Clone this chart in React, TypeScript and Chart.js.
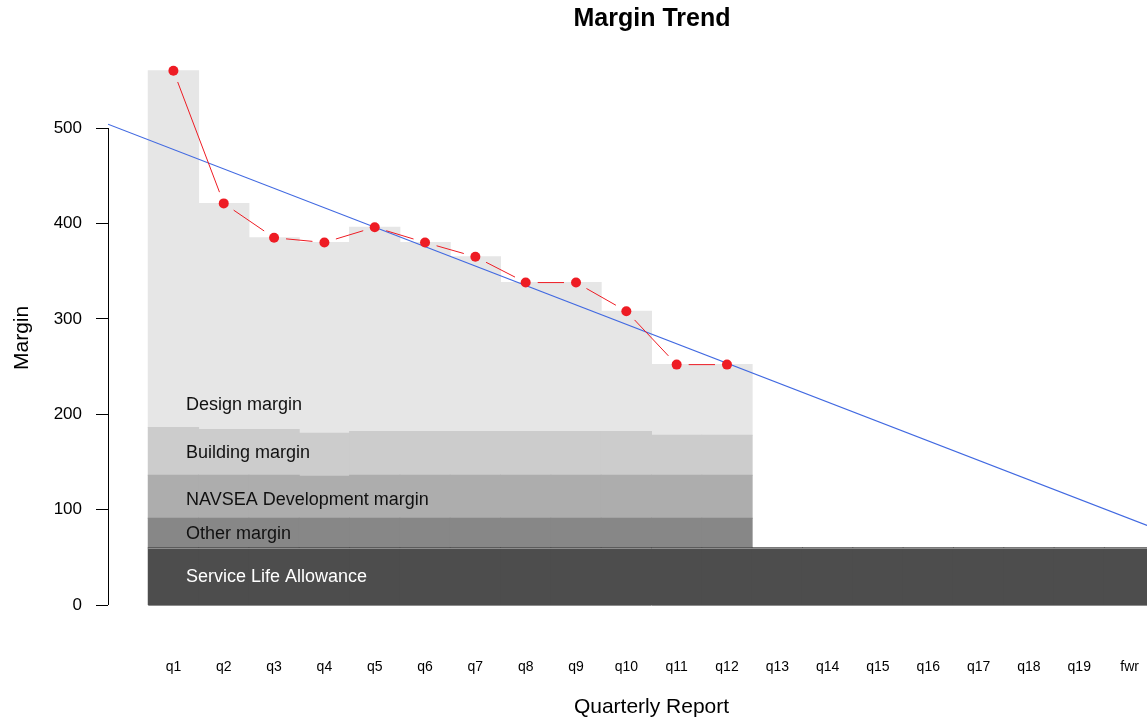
import React, { useEffect, useRef } from "react";
import { Chart, registerables } from "chart.js";

Chart.register(...registerables);

const FONT = "'Liberation Sans', Arial, Helvetica, sans-serif";

const categories = ["q1", "q2", "q3", "q4", "q5", "q6", "q7", "q8", "q9", "q10", "q11", "q12", "q13", "q14", "q15", "q16", "q17", "q18", "q19", "fwr"];
const serviceLifeAllowance = [60, 60, 60, 60, 60, 60, 60, 60, 60, 60, 60, 60, 60, 60, 60, 60, 60, 60, 60, 60];
const otherMargin = [31, 31, 31, 31, 31, 31, 31, 31, 31, 31, 31, 31];
const navseaMargin = [45, 45, 45, 44, 45, 45, 45, 45, 45, 45, 45, 45];
const buildingMargin = [50, 48, 48, 45, 46, 46, 46, 46, 46, 46, 42, 42];
const designMargin = [374, 237, 201, 200, 214, 198, 183, 156, 156, 126, 74, 74];
const marginTotals = [560, 421, 385, 380, 396, 380, 365, 338, 338, 308, 252, 252];
const trendEnds = [504, 64];
const xRange = [-0.8, 20.8];
const yRange = [-22.4, 582.4];
const yTicks = [0, 100, 200, 300, 400, 500];
const bandLabels = ["Design margin", "Building margin", "NAVSEA Development margin", "Other margin", "Service Life Allowance"];
const bandLabelValues = [210, 159, 110, 74, 29];
const bandLabelColors = ["#111", "#111", "#111", "#111", "#fff"];

const toXY = (arr: number[]) => arr.map((v, i) => ({ x: i + 0.5, y: v }));

const overlayPlugin = {
  id: "overlay",
  afterDatasetsDraw(chart: any) {
    const ctx = chart.ctx;
    const xs = chart.scales.x;
    const ys = chart.scales.y;
    ctx.save();
    // y axis line from first to last tick (R style)
    ctx.strokeStyle = "#000";
    ctx.lineWidth = 1;
    const ax = Math.round(chart.chartArea.left) + 0.5;
    ctx.beginPath();
    ctx.moveTo(ax, ys.getPixelForValue(yTicks[0]));
    ctx.lineTo(ax, ys.getPixelForValue(yTicks[yTicks.length - 1]));
    ctx.stroke();

    // thin outline along the Service Life Allowance band
    ctx.strokeStyle = "#8c8c8c";
    const sx0 = xs.getPixelForValue(0);
    const sx1 = xs.getPixelForValue(serviceLifeAllowance.length);
    [0, serviceLifeAllowance[0]].forEach((v) => {
      const py = Math.round(ys.getPixelForValue(v)) + 0.5;
      ctx.beginPath();
      ctx.moveTo(sx0, py);
      ctx.lineTo(sx1, py);
      ctx.stroke();
    });

    // band labels
    ctx.font = `18px ${FONT}`;
    ctx.textAlign = "left";
    ctx.textBaseline = "middle";
    const lx = xs.getPixelForValue(0.75);
    bandLabels.forEach((t, i) => {
      ctx.fillStyle = bandLabelColors[i];
      ctx.fillText(t, lx, ys.getPixelForValue(bandLabelValues[i]));
    });

    // gapped connecting segments (type "b")
    const meta = chart.getDatasetMeta(0);
    const pts = meta.data.map((p: any) => ({ x: p.x, y: p.y }));
    ctx.strokeStyle = "#ee1c24";
    ctx.lineWidth = 1;
    const g = 12;
    for (let i = 0; i < pts.length - 1; i++) {
      const a = pts[i];
      const b = pts[i + 1];
      const dx = b.x - a.x;
      const dy = b.y - a.y;
      const d = Math.hypot(dx, dy);
      if (d <= 2 * g) continue;
      const ux = dx / d;
      const uy = dy / d;
      ctx.beginPath();
      ctx.moveTo(a.x + ux * g, a.y + uy * g);
      ctx.lineTo(b.x - ux * g, b.y - uy * g);
      ctx.stroke();
    }
    ctx.restore();
  },
};

export default function App() {
  const ref = useRef<HTMLCanvasElement>(null);

  useEffect(() => {
    if (!ref.current) return;
    const barCommon = {
      type: "bar" as const,
      stack: "margins",
      barPercentage: 1,
      categoryPercentage: 1,
      borderWidth: 0,
      inflateAmount: 0.5,
    };
    const chart = new Chart(ref.current, {
      data: {
        datasets: [
          {
            type: "line",
            label: "Margin",
            data: toXY(marginTotals),
            showLine: false,
            stack: "points",
            pointRadius: 5,
            pointBackgroundColor: "#ee1c24",
            pointBorderColor: "#ee1c24",
            pointBorderWidth: 0,
            borderColor: "#ee1c24",
          },
          {
            type: "line",
            label: "Trend",
            data: [
              { x: xRange[0], y: trendEnds[0] },
              { x: xRange[1], y: trendEnds[1] },
            ],
            stack: "trend",
            borderColor: "#4169e1",
            borderWidth: 1.2,
            pointRadius: 0,
          },
          { ...barCommon, label: "Service Life Allowance", data: toXY(serviceLifeAllowance), backgroundColor: "#4d4d4d" },
          { ...barCommon, label: "Other margin", data: toXY(otherMargin), backgroundColor: "#878787" },
          { ...barCommon, label: "NAVSEA Development margin", data: toXY(navseaMargin), backgroundColor: "#adadad" },
          { ...barCommon, label: "Building margin", data: toXY(buildingMargin), backgroundColor: "#cccccc" },
          { ...barCommon, label: "Design margin", data: toXY(designMargin), backgroundColor: "#e6e6e6" },
        ] as any,
      },
      options: {
        animation: false,
        responsive: false,
        layout: { padding: 0 },
        plugins: {
          legend: { display: false },
          tooltip: { enabled: false },
          title: {
            display: true,
            text: "Margin Trend",
            color: "#000",
            font: { family: FONT, size: 25, weight: "bold", lineHeight: 1.2 },
            padding: { top: 4.5, bottom: 14.9 },
          },
        },
        scales: {
          x: {
            type: "linear",
            min: xRange[0],
            max: xRange[1],
            stacked: true,
            offset: false,
            afterBuildTicks: (s: any) => {
              s.ticks = categories.map((_, i) => ({ value: i + 0.5 }));
            },
            afterFit: (s: any) => {
              s.height = 94.6;
            },
            grid: { display: false },
            border: { display: false },
            ticks: {
              padding: 24,
              color: "#000",
              autoSkip: false,
              maxRotation: 0,
              font: { family: FONT, size: 14 },
              callback: (_v: any, i: number) => categories[i],
            },
            title: {
              display: true,
              text: "Quarterly Report",
              color: "#000",
              font: { family: FONT, size: 21 },
              padding: { top: 0, bottom: 1.4 },
            },
          },
          y: {
            type: "linear",
            position: "left",
            min: yRange[0],
            max: yRange[1],
            stacked: true,
            afterBuildTicks: (s: any) => {
              s.ticks = yTicks.map((v) => ({ value: v }));
            },
            afterFit: (s: any) => {
              s.width = 108;
            },
            grid: {
              display: true,
              drawOnChartArea: false,
              drawTicks: true,
              tickLength: 12,
              tickColor: "#000",
              tickWidth: 1,
            },
            border: { display: false },
            ticks: {
              padding: 14,
              color: "#000",
              font: { family: FONT, size: 17 },
              callback: (v: any) => String(v),
            },
            title: {
              display: true,
              text: "Margin",
              color: "#000",
              font: { family: FONT, size: 21 },
              padding: { top: 9.4, bottom: 0 },
            },
          },
          yR: {
            type: "linear",
            position: "right",
            display: true,
            grid: { display: false },
            border: { display: false },
            ticks: { display: false },
            afterFit: (s: any) => {
              s.width = 109;
            },
          },
        },
      } as any,
      plugins: [overlayPlugin],
    });
    return () => chart.destroy();
  }, []);

  return (
    <div
      style={{
        position: "fixed",
        left: 0,
        top: 0,
        width: 1147,
        height: 721,
        overflow: "hidden",
        background: "#fff",
      }}
    >
      <canvas ref={ref} width={1304} height={721} style={{ display: "block" }} />
    </div>
  );
}
